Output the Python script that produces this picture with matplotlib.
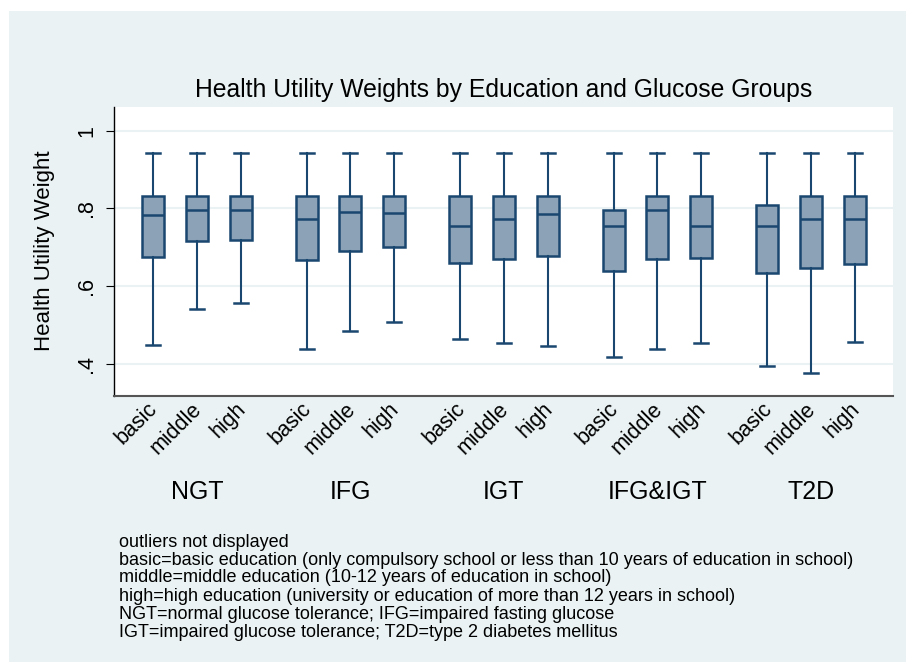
import matplotlib
matplotlib.use("Agg")
import matplotlib.pyplot as plt
import matplotlib.transforms as mtransforms
from matplotlib.patches import Rectangle

plt.rcParams['font.family'] = ['Liberation Sans', 'DejaVu Sans']

# ---------------- data ----------------
groups = ["NGT", "IFG", "IGT", "IFG&IGT", "T2D"]
education = ["basic", "middle", "high"]

# per group: basic, middle, high
q3 = [0.832, 0.832, 0.832,
      0.832, 0.832, 0.832,
      0.832, 0.832, 0.832,
      0.797, 0.832, 0.832,
      0.808, 0.832, 0.832]
medians = [0.783, 0.797, 0.797,
           0.773, 0.792, 0.788,
           0.755, 0.773, 0.786,
           0.754, 0.795, 0.754,
           0.754, 0.773, 0.773]
q1 = [0.676, 0.715, 0.719,
      0.668, 0.690, 0.701,
      0.659, 0.671, 0.677,
      0.640, 0.671, 0.673,
      0.635, 0.647, 0.656]
whisker_low = [0.449, 0.540, 0.556,
               0.438, 0.485, 0.508,
               0.465, 0.454, 0.447,
               0.417, 0.438, 0.453,
               0.395, 0.377, 0.457]
whisker_high = [0.943] * 15

y_ticks = [0.4, 0.6, 0.8, 1.0]
y_tick_labels = [".4", ".6", ".8", "1"]

title = "Health Utility Weights by Education and Glucose Groups"
ylabel = "Health Utility Weight"
notes = [
    "outliers not displayed",
    "basic=basic education (only compulsory school or less than 10 years of education in school)",
    "middle=middle education (10-12 years of education in school)",
    "high=high education (university or education of more than 12 years in school)",
    "NGT=normal glucose tolerance; IFG=impaired fasting glucose",
    "IGT=impaired glucose tolerance; T2D=type 2 diabetes mellitus",
]

# ---------------- styling ----------------
navy = "#1A476F"
fill = "#8CA3B7"
bg = "#EAF2F3"

W, H = 906, 662
fig = plt.figure(figsize=(W / 100, H / 100), dpi=100)
fig.patch.set_facecolor("white")
fig.patches.append(Rectangle((9 / W, 0), 1 - 9 / W, 1 - 11 / H,
                             transform=fig.transFigure, facecolor=bg,
                             edgecolor="none", zorder=-10))

left, right, top, bottom = 114, 893, 107, 395.7
ax = fig.add_axes([left / W, 1 - bottom / H, (right - left) / W, (bottom - top) / H])
ax.set_facecolor("white")

positions = []
for g in range(len(groups)):
    for i in range(len(education)):
        positions.append(g * 3.5 + i)

stats = []
for k in range(len(positions)):
    stats.append(dict(med=medians[k], q1=q1[k], q3=q3[k],
                      whislo=whisker_low[k], whishi=whisker_high[k], fliers=[]))

ax.bxp(stats, positions=positions, widths=0.5, capwidths=0.32,
       showfliers=False, patch_artist=True,
       boxprops=dict(facecolor=fill, edgecolor=navy, linewidth=1.8),
       medianprops=dict(color=navy, linewidth=1.8),
       whiskerprops=dict(color=navy, linewidth=1.5),
       capprops=dict(color=navy, linewidth=1.8))

ax.set_xlim(-0.89, positions[-1] + 0.87)
ax.set_ylim(0.318, 1.061)

ax.set_yticks(y_ticks)
ax.set_yticklabels(y_tick_labels, rotation=90, va="center", fontsize=15.5)
ax.tick_params(axis="y", length=6, width=0.8, pad=6, color="black")
ax.yaxis.grid(True, color=bg, linewidth=1.5)
ax.set_axisbelow(True)

ax.set_xticks(positions)
ax.set_xticklabels(education * len(groups), rotation=45, ha="right", va="top",
                   fontsize=15.5)
ax.tick_params(axis="x", length=0, pad=2)
shift = mtransforms.ScaledTranslation(9 / 100, 0 / 100, fig.dpi_scale_trans)
for lbl in ax.get_xticklabels():
    lbl.set_transform(lbl.get_transform() + shift)

for side in ["top", "right"]:
    ax.spines[side].set_visible(False)
ax.spines["left"].set_color("black")
ax.spines["left"].set_linewidth(1.0)
ax.spines["bottom"].set_color("#555555")
ax.spines["bottom"].set_linewidth(1.5)

fig.text(45 / W, 1 - 251 / H, ylabel, rotation=90,
         ha="center", va="center", fontsize=16)

fig.text((left + right) / 2 / W, 1 - 90 / H, title, ha="center", va="center",
         fontsize=17.8)

trans = mtransforms.blended_transform_factory(ax.transData, fig.transFigure)
for g, name in enumerate(groups):
    ax.text(g * 3.5 + 1, 1 - 492 / H, name, transform=trans,
            ha="center", va="center", fontsize=18)

note_y = [542.7, 560.3, 578.0, 596.3, 614.7, 632.3]
for line, yy in zip(notes, note_y):
    fig.text(119 / W, 1 - yy / H, line, ha="left", va="center", fontsize=13)

fig.savefig("out.png", dpi=100, facecolor=fig.get_facecolor())
